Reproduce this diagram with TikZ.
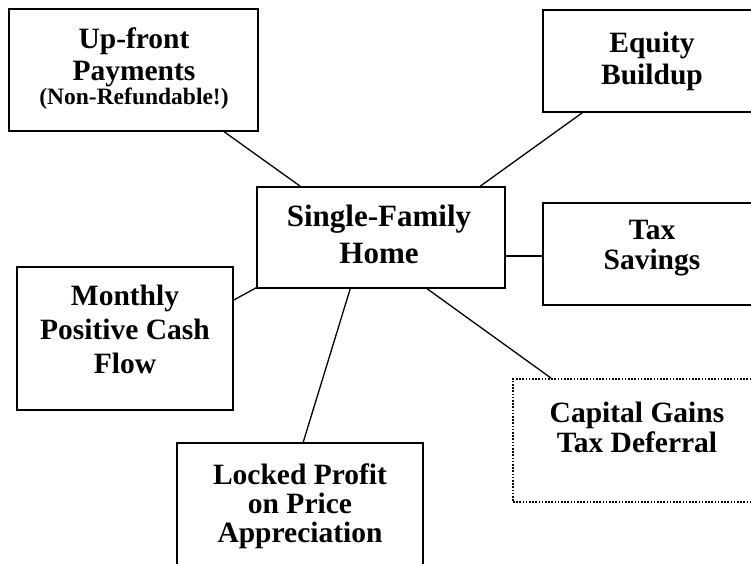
\documentclass[tikz,border=0pt]{standalone}
\usepackage{fontspec}
\setmainfont{Liberation Serif}
\begin{document}
\begin{tikzpicture}[x=1pt,y=-1pt,
  box/.style={draw=black, line width=1.6pt, rectangle, inner sep=0pt},
  dotbox/.style={draw=black, line width=1.6pt, dash pattern=on 1.6pt off 1.6pt, rectangle, inner sep=0pt},
  lbl/.style={anchor=north, align=center, inner sep=0pt, font=\fontsize{29.5}{32}\selectfont\bfseries},
  link/.style={draw=black, line width=1.3pt}]
\path[use as bounding box] (0,0) rectangle (751,563);
\fill[white] (0,0) rectangle (751,563);
\clip (0,0) rectangle (751,563);
% boxes
\node[box, minimum width=249pt, minimum height=122pt] (up)   at (133.5,70)  {};
\node[box, minimum width=218pt, minimum height=102pt] (eq)   at (652,61)    {};
\node[box, minimum width=248pt, minimum height=101pt] (sf)   at (381,237.5) {};
\node[box, minimum width=218pt, minimum height=102pt] (tax)  at (652,254)   {};
\node[box, minimum width=216pt, minimum height=143pt] (mon)  at (125,338.5) {};
\node[dotbox, minimum width=248pt, minimum height=123pt] (cap) at (637,440.5) {};
\node[box, minimum width=246pt, minimum height=157pt] (lock) at (300,521.5) {};
% texts
\node[lbl] (upt) at (134,28) {Up-front\\Payments\\[-8pt]{\fontsize{23.5}{25}\selectfont (Non-Refundable!)}};
\node[lbl] (eqt) at (652,32) {Equity\\Buildup};
\node[lbl, font=\fontsize{31}{37}\selectfont\bfseries] (sft) at (379,205) {Single-Family\\Home};
\node[lbl, font=\fontsize{29.5}{30}\selectfont\bfseries] (taxt) at (652,220) {Tax\\Savings};
\node[lbl, font=\fontsize{29.5}{34}\selectfont\bfseries] (mont) at (125,285) {Monthly\\Positive Cash\\Flow};
\node[lbl, font=\fontsize{29.5}{30}\selectfont\bfseries] (capt) at (637,402) {Capital Gains\\Tax Deferral};
\node[lbl, font=\fontsize{29.5}{29}\selectfont\bfseries] (lockt) at (300,464) {Locked Profit\\on Price\\Appreciation};
% connectors
\draw[link] ([xshift=216pt]up.south west) -- ([xshift=44pt]sf.north west);
\draw[link] ([xshift=40pt]eq.south west) -- ([xshift=224pt]sf.north west);
\draw[link] ([yshift=-18.5pt]sf.east) -- ([yshift=-18.5pt]sf.east -| tax.west);
\draw[link] ([yshift=38.5pt]mon.east) -- ([yshift=1pt]sf.south west);
\draw[link] ([xshift=94pt]sf.south west) -- ([xshift=127pt]lock.north west);
\draw[link] ([xshift=171pt]sf.south west) -- ([xshift=39pt]cap.north west);
\end{tikzpicture}
\end{document}
